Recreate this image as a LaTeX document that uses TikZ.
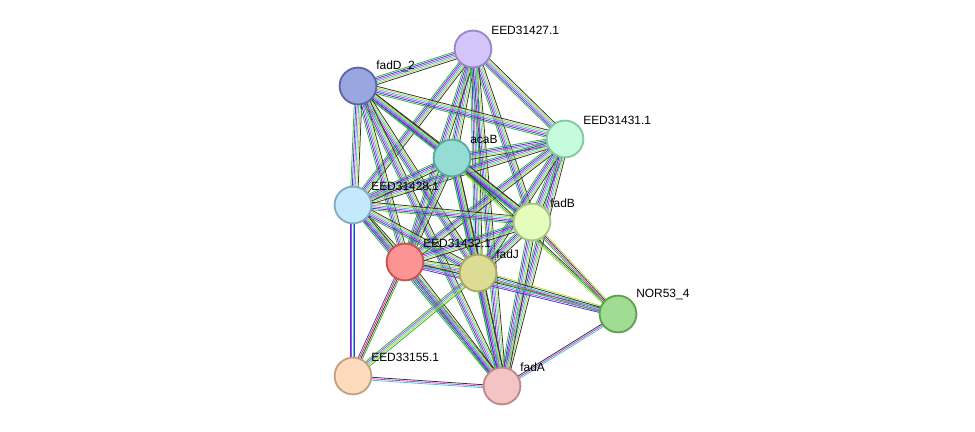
\documentclass[tikz,border=0pt]{standalone}
\usepackage{fontspec}
\setmainfont{Liberation Sans}
\usetikzlibrary{calc}
\definecolor{eg}{HTML}{2DB82D}
\definecolor{eb}{HTML}{3A3AE6}
\definecolor{em}{HTML}{D23CD2}
\definecolor{ec}{HTML}{3CC8E6}
\definecolor{ey}{HTML}{B4DC3C}
\definecolor{ek}{HTML}{333333}
\definecolor{er}{HTML}{F03030}
\newcommand\bund[3]{%
  \foreach \c [count=\i] in {#3}{%
    \pgfmathsetmacro\o{(\i-3)*1.05}%
    \draw[color=\c, line width=0.55pt] ($(#1)!\o pt!90:(#2)$) -- ($(#2)!\o pt!-90:(#1)$);}}
\begin{document}
\begin{tikzpicture}
        [x=0.025cm, y=-0.025cm,
        prot/.style={circle, draw, line width=1.3pt, minimum size=0.92cm, inner sep=0},
        lbl/.style={anchor=south west, inner sep=0, font=\fontsize{8.5}{10}\selectfont}]

        \useasboundingbox (0,0) rectangle (975,432);

        % proteins
        \coordinate (q27) at (473,49);
        \coordinate (qD2) at (358,86);
        \coordinate (q31) at (565,139);
        \coordinate (qaB) at (452,158);
        \coordinate (q28) at (353,205);
        \coordinate (qfB) at (532,222);
        \coordinate (q32) at (405,262);
        \coordinate (qfJ) at (478,273);
        \coordinate (qNR) at (618,314);
        \coordinate (q55) at (353,376);
        \coordinate (qfA) at (502,386);

        % evidence bundles
        \foreach \a/\b in {q27/qD2,q27/q31,q27/qaB,q27/q28,q27/qfB,q27/q32,q27/qfJ,q27/qfA,
                           qD2/q31,qD2/qaB,qD2/q28,qD2/qfB,qD2/q32,qD2/qfJ,qD2/qfA,
                           q31/qaB,q31/q28,q31/qfB,q31/q32,q31/qfJ,q31/qfA,
                           qaB/q28,qaB/qfB,qaB/q32,qaB/qfJ,qaB/qfA,
                           q28/qfB,q28/q32,q28/qfJ,q28/qfA,
                           qfB/q32,qfB/qfJ,qfB/qfA,
                           q32/qfJ,q32/qfA,qfJ/qfA}
          {\bund{\a}{\b}{eg,eb,em,ec,ey,ek}}
        \bund{qaB}{qNR}{ey,eg,ek}
        \bund{qfB}{qNR}{eg,em,ek,ey}
        \bund{q32}{qNR}{eb,em,ec,ek,ey}
        \bund{qfJ}{qNR}{eg,em,ec,ek,ey}
        \bund{qfA}{qNR}{ec,em,ek}
        \bund{q28}{q55}{eb,em,ec,eb}
        \bund{q32}{q55}{eb,er,ek,eg}
        \bund{qfJ}{q55}{eg,em,ec,ey,eg}
        \bund{q55}{qfA}{ec,em,ek}

        \node[prot, fill={rgb,255:red,212;green,196;blue,252}, draw={rgb,255:red,154;green,134;blue,200}] (n27) at (q27) {};
        \node[prot, fill={rgb,255:red,154;green,166;blue,224}, draw={rgb,255:red,90;green,102;blue,168}] (nD2) at (qD2) {};
        \node[prot, fill={rgb,255:red,196;green,252;blue,220}, draw={rgb,255:red,132;green,200;blue,160}] (n31) at (q31) {};
        \node[prot, fill={rgb,255:red,148;green,220;blue,212}, draw={rgb,255:red,90;green,168;blue,156}] (naB) at (qaB) {};
        \node[prot, fill={rgb,255:red,196;green,232;blue,252}, draw={rgb,255:red,132;green,170;blue,196}] (n28) at (q28) {};
        \node[prot, fill={rgb,255:red,228;green,252;blue,188}, draw={rgb,255:red,168;green,196;blue,132}] (nfB) at (qfB) {};
        \node[prot, fill={rgb,255:red,252;green,148;blue,148}, draw={rgb,255:red,200;green,80;blue,80}] (n32) at (q32) {};
        \node[prot, fill={rgb,255:red,220;green,220;blue,148}, draw={rgb,255:red,168;green,168;blue,90}] (nfJ) at (qfJ) {};
        \node[prot, fill={rgb,255:red,160;green,220;blue,148}, draw={rgb,255:red,94;green,160;blue,80}] (nNR) at (qNR) {};
        \node[prot, fill={rgb,255:red,252;green,220;blue,188}, draw={rgb,255:red,196;green,160;blue,128}] (n55) at (q55) {};
        \node[prot, fill={rgb,255:red,244;green,196;blue,196}, draw={rgb,255:red,192;green,136;blue,136}] (nfA) at (qfA) {};

        % labels
        \node[lbl] at ($(n27)+(18,-14)$) {EED31427.1};
        \node[lbl] at ($(nD2)+(18,-14)$) {fadD\_2};
        \node[lbl] at ($(n31)+(18,-14)$) {EED31431.1};
        \node[lbl] at ($(naB)+(18,-14)$) {acaB};
        \node[lbl] at ($(n28)+(18,-14)$) {EED31428.1};
        \node[lbl] at ($(nfB)+(18,-14)$) {fadB};
        \node[lbl] at ($(n32)+(18,-14)$) {EED31432.1};
        \node[lbl] at ($(nfJ)+(18,-14)$) {fadJ};
        \node[lbl] at ($(nNR)+(18,-14)$) {NOR53\_4};
        \node[lbl] at ($(n55)+(18,-14)$) {EED33155.1};
        \node[lbl] at ($(nfA)+(18,-14)$) {fadA};
\end{tikzpicture}
\end{document}
